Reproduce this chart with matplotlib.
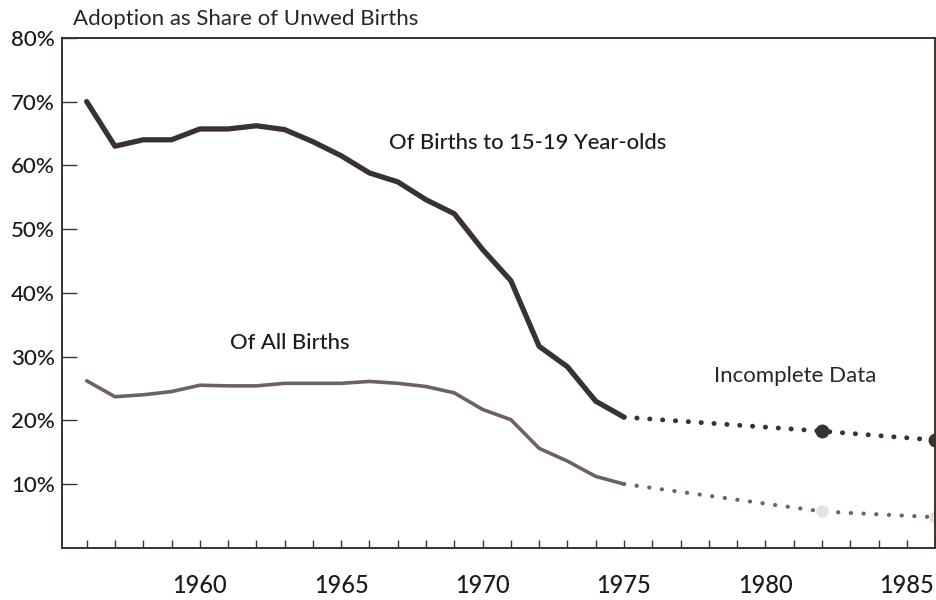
import matplotlib
matplotlib.use("Agg")
import matplotlib.pyplot as plt
from matplotlib.ticker import MultipleLocator, FixedLocator

plt.rcParams['font.family'] = ['Lato', 'DejaVu Sans']

# teen births (15-19), 1956-1975 solid
years = list(range(1956, 1976))
teen = [70.0, 63.0, 64.0, 64.0, 65.7, 65.7, 66.2, 65.6, 63.7, 61.5,
        58.8, 57.4, 54.6, 52.4, 46.8, 41.9, 31.6, 28.4, 23.0, 20.5]
all_births = [26.2, 23.7, 24.0, 24.5, 25.5, 25.4, 25.4, 25.8, 25.8, 25.8,
              26.1, 25.8, 25.3, 24.3, 21.7, 20.1, 15.6, 13.6, 11.2, 10.0]

# incomplete data (dotted)
inc_years = [1975, 1982, 1986]
teen_inc = [20.5, 18.3, 16.9]
all_inc = [10.0, 5.7, 4.8]

ytick_vals = [10, 20, 30, 40, 50, 60, 70, 80]
ytick_labels = ["10%", "20%", "30%", "40%", "50%", "60%", "70%", "80%"]
xtick_vals = [1960, 1965, 1970, 1975, 1980, 1985]

dark = "#39322f"
light = "#6e625e"
txt = "#1e1a18"

fig = plt.figure(figsize=(9.36, 6.0), dpi=100)
ax = fig.add_axes([0.066, 0.087, 0.933, 0.85])

ax.plot(years, teen, color=dark, lw=3.8, solid_joinstyle='round', solid_capstyle='round')
ax.plot(years, all_births, color=light, lw=2.6, solid_joinstyle='round', solid_capstyle='round')

ax.plot(inc_years, teen_inc, color=dark, lw=3.5, linestyle=(0, (0.05, 2.6)),
        dash_capstyle='round')
ax.plot(inc_years, all_inc, color=light, lw=3.0, linestyle=(0, (0.05, 3.0)),
        dash_capstyle='round')
ax.plot(inc_years[1:], teen_inc[1:], 'o', color=dark, ms=9, clip_on=False)
ax.plot(inc_years[1:], all_inc[1:], 'o', color="#e4e4df", ms=8, clip_on=False)

ax.set_xlim(1955.12, 1986.0)
ax.set_ylim(0, 80)

ax.yaxis.set_major_locator(FixedLocator(ytick_vals))
ax.set_yticklabels(ytick_labels)
ax.xaxis.set_major_locator(FixedLocator(xtick_vals))
ax.xaxis.set_minor_locator(MultipleLocator(1))
ax.set_xticklabels([str(v) for v in xtick_vals])

ax.tick_params(axis='y', direction='in', length=11, width=1, color=dark,
               labelsize=16, pad=5, labelcolor=txt)
ax.tick_params(axis='x', which='both', direction='in', length=6, width=1,
               color=dark, labelsize=17, pad=19, labelcolor=txt)
for lab in ax.get_xticklabels() + ax.get_yticklabels():
    lab.set_fontweight('medium')

for s in ax.spines.values():
    s.set_color(dark)
    s.set_linewidth(1.4)

fig.text(0.078, 0.968, "Adoption as Share of Unwed Births", fontsize=16,
         fontweight='normal', color="#2a2522", va='center', ha='left')

ax.text(1966.7, 63.5, "Of Births to 15-19 Year-olds", fontsize=15.8,
        fontweight='medium', color=txt, ha='left', va='center')
ax.text(1961.06, 32.1, "Of All Births", fontsize=15.8,
        fontweight='medium', color=txt, ha='left', va='center')
ax.text(1978.17, 27.0, "Incomplete Data", fontsize=16,
        fontweight='normal', color="#2a2522", ha='left', va='center')

fig.savefig("out.png", dpi=100)
